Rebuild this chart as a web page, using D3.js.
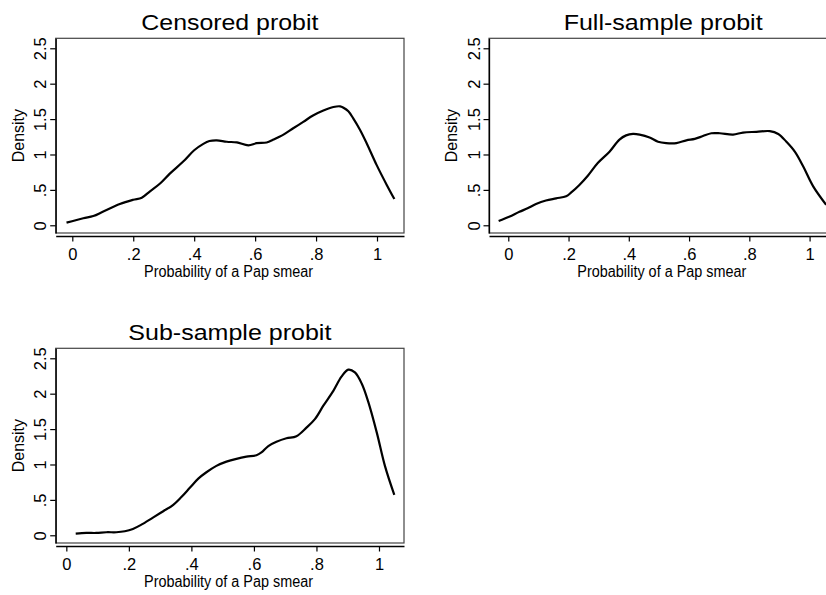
<!DOCTYPE html>
<html>
<head>
<meta charset="utf-8">
<script src="https://cdn.jsdelivr.net/npm/d3@7"></script>
<style>
    html, body { margin: 0; padding: 0; background: #fff; overflow: hidden; }
    svg { display: block; font-family: "Liberation Sans", Arial, sans-serif; }
    .tick line { stroke: #000; }
</style>
</head>
<body>
<div id="chart"></div>
<script>
// density estimates, [probability, density]
const censoredProbit = [
    [-0.019, 0.038], [0.036, 0.10], [0.069, 0.13], [0.10, 0.19], [0.156, 0.30],
    [0.20, 0.36], [0.228, 0.39], [0.255, 0.48], [0.288, 0.59], [0.32, 0.73],
    [0.364, 0.90], [0.40, 1.06], [0.43, 1.15], [0.45, 1.19], [0.474, 1.20],
    [0.507, 1.18], [0.54, 1.17], [0.578, 1.13], [0.605, 1.16], [0.638, 1.17],
    [0.66, 1.21], [0.693, 1.28], [0.725, 1.37], [0.758, 1.46], [0.79, 1.55],
    [0.824, 1.62], [0.857, 1.67], [0.879, 1.68], [0.89, 1.66], [0.906, 1.61],
    [0.922, 1.51], [0.944, 1.35], [0.966, 1.16], [0.999, 0.85], [1.032, 0.57],
    [1.057, 0.37],
];

const fullSampleProbit = [
    [-0.032, 0.061], [0.003, 0.12], [0.037, 0.19], [0.064, 0.24], [0.092, 0.30],
    [0.125, 0.35], [0.159, 0.38], [0.192, 0.41], [0.208, 0.46], [0.236, 0.57],
    [0.264, 0.70], [0.297, 0.88], [0.336, 1.04], [0.369, 1.21], [0.391, 1.27],
    [0.414, 1.29], [0.436, 1.28], [0.469, 1.24], [0.497, 1.18], [0.524, 1.16],
    [0.558, 1.16], [0.591, 1.20], [0.619, 1.22], [0.646, 1.26], [0.674, 1.30],
    [0.702, 1.30], [0.746, 1.28], [0.779, 1.31], [0.824, 1.32], [0.868, 1.33],
    [0.896, 1.29], [0.923, 1.18], [0.951, 1.04], [0.979, 0.83], [1.012, 0.55],
    [1.055, 0.29],
];

const subSampleProbit = [
    [0.030, 0.024], [0.064, 0.033], [0.096, 0.033], [0.128, 0.043], [0.160, 0.043],
    [0.187, 0.057], [0.213, 0.09], [0.240, 0.15], [0.277, 0.25], [0.310, 0.34],
    [0.342, 0.43], [0.368, 0.54], [0.395, 0.67], [0.422, 0.80], [0.448, 0.89],
    [0.480, 0.98], [0.512, 1.04], [0.544, 1.08], [0.576, 1.11], [0.608, 1.13],
    [0.624, 1.17], [0.646, 1.26], [0.672, 1.32], [0.704, 1.37], [0.736, 1.40],
    [0.768, 1.52], [0.795, 1.64], [0.822, 1.83], [0.854, 2.04], [0.880, 2.24],
    [0.902, 2.34], [0.923, 2.30], [0.945, 2.14], [0.966, 1.88], [0.993, 1.45],
    [1.019, 0.98], [1.049, 0.57],
];

const xTicks = [0, 0.2, 0.4, 0.6, 0.8, 1];
const xTickLabels = ['0', '.2', '.4', '.6', '.8', '1'];
const yTicks = [0, 0.5, 1, 1.5, 2, 2.5];
const yTickLabels = ['0', '.5', '1', '1.5', '2', '2.5'];

const titles = ['Censored probit', 'Full-sample probit', 'Sub-sample probit'];
const xTitle = 'Probability of a Pap smear';
const yTitle = 'Density';

const width = 826;
const height = 595;

// each panel: where its plot region sits, and the x range stata picked for it
const panels = [
    { title: titles[0], data: censoredProbit,   left: 55.7, top: 38.3,  yTitleX: 24,    xDomain: [-0.0545, 1.0886], titleWidth: 177 },
    { title: titles[1], data: fullSampleProbit, left: 489,  top: 38.3,  yTitleX: 457.3, xDomain: [-0.064, 1.092],   titleWidth: 199 },
    { title: titles[2], data: subSampleProbit,  left: 55.7, top: 348.3, yTitleX: 24,    xDomain: [-0.034, 1.080],   titleWidth: 203 },
];
const plotW = 348.3;
const plotH = 194.7;
const yDomain = [-0.109, 2.641];

const svg = d3.select('#chart').append('svg')
    .attr('width', width)
    .attr('height', height);

panels.forEach(p => drawPanel(p));

function drawPanel(p)
{
    const g = svg.append('g').attr('transform', `translate(${p.left}, ${p.top})`);

    const x = d3.scaleLinear().domain(p.xDomain).range([0, plotW]);
    const y = d3.scaleLinear().domain(yDomain).range([plotH, 0]);

    // plot region outline
    g.append('rect')
        .attr('width', plotW)
        .attr('height', plotH)
        .attr('fill', 'none')
        .attr('stroke', '#444')
        .attr('stroke-width', 1.2);

    // x axis sits a few px below the plot region
    const xAxis = g.append('g')
        .attr('transform', `translate(0, ${plotH + 3})`)
        .call(d3.axisBottom(x)
            .tickValues(xTicks)
            .tickFormat((d, i) => xTickLabels[i])
            .tickSizeInner(5.5)
            .tickSizeOuter(0)
            .tickPadding(7));
    xAxis.select('.domain').attr('stroke', '#000').attr('stroke-width', 1.3);
    xAxis.selectAll('.tick line').attr('stroke-width', 1.2);
    xAxis.selectAll('text')
        .attr('font-size', 16.5)
        .attr('fill', '#000')
        .attr('font-family', '"Liberation Sans", Arial, sans-serif');

    const yAxis = g.append('g')
        .call(d3.axisLeft(y)
            .tickValues(yTicks)
            .tickFormat((d, i) => yTickLabels[i])
            .tickSizeInner(5.5)
            .tickSizeOuter(0));
    yAxis.select('.domain').attr('stroke', '#000').attr('stroke-width', 1.3);
    yAxis.selectAll('.tick line').attr('stroke-width', 1.2);
    yAxis.selectAll('text')
        .attr('transform', 'rotate(-90)')
        .attr('x', 0)
        .attr('y', -9.5)
        .attr('dy', 0)
        .attr('text-anchor', 'middle')
        .attr('font-size', 16.5)
        .attr('fill', '#000')
        .attr('font-family', '"Liberation Sans", Arial, sans-serif');

    const line = d3.line()
        .x(d => x(d[0]))
        .y(d => y(d[1]))
        .curve(d3.curveCatmullRom.alpha(0.5));

    g.append('path')
        .datum(p.data)
        .attr('d', line)
        .attr('fill', 'none')
        .attr('stroke', '#000')
        .attr('stroke-width', 2.2)
        .attr('stroke-linejoin', 'round');

    g.append('text')
        .attr('x', plotW / 2)
        .attr('y', -8.3)
        .attr('text-anchor', 'middle')
        .attr('font-size', 22)
        .attr('textLength', p.titleWidth)
        .attr('lengthAdjust', 'spacingAndGlyphs')
        .text(p.title);

    g.append('text')
        .attr('x', plotW / 2 - 1.3)
        .attr('y', plotH + 43.7)
        .attr('text-anchor', 'middle')
        .attr('font-size', 16)
        .attr('textLength', 169)
        .attr('lengthAdjust', 'spacingAndGlyphs')
        .text(xTitle);

    g.append('text')
        .attr('transform', `translate(${p.yTitleX - p.left}, ${plotH / 2}) rotate(-90)`)
        .attr('text-anchor', 'middle')
        .attr('font-size', 16)
        .text(yTitle);
}
</script>
</body>
</html>
